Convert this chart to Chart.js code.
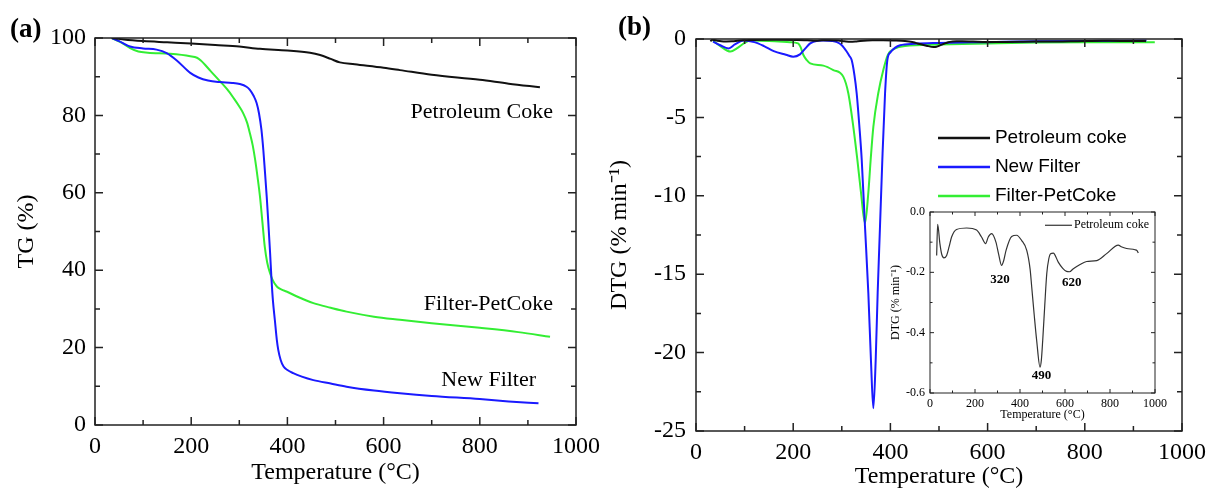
<!DOCTYPE html>
<html>
<head>
<meta charset="utf-8">
<script src="https://cdn.jsdelivr.net/npm/chart.js@4.4.1/dist/chart.umd.min.js"></script>
<style>
    body { margin: 0; background: #fff; }
    #wrap { position: relative; width: 1208px; height: 488px; overflow: hidden; }
    canvas { position: absolute; }
</style>
</head>
<body>
<div id="wrap">
    <canvas id="tg" width="600" height="488" style="left:0;top:0"></canvas>
    <canvas id="dtg" width="608" height="488" style="left:600px;top:0"></canvas>
    <canvas id="inset" width="290" height="225" style="left:880px;top:200px"></canvas>
</div>
<script>
// ------------------ DATA ------------------
// (a) TG curves, temperature in °C, mass in %
const cokeTgTemp = [35, 60, 100, 150, 200, 250, 300, 343, 400, 447, 468, 490, 509, 540, 600, 634, 700, 800, 860, 925];
const cokeTg = [100, 99.6, 99.2, 98.9, 98.6, 98.2, 97.8, 97.2, 96.8, 96.2, 95.6, 94.6, 93.7, 93.2, 92.3, 91.7, 90.5, 89.2, 88.2, 87.3];

const filterTgTemp = [35, 50, 73, 100, 128, 149, 170, 198, 215, 235, 260, 285, 301, 315, 322, 330, 336, 341, 346, 350, 353, 357, 360, 364, 367, 370, 374, 378, 381, 386, 392, 400, 412, 430, 454, 490, 523, 580, 634, 700, 800, 860, 922];
const filterTg = [100, 99.2, 97.8, 97.3, 97, 96.1, 94.2, 91, 89.8, 89, 88.6, 88.4, 88.1, 87.4, 86.6, 85, 83.2, 80.5, 76.3, 71, 66, 59, 53, 44.5, 37.5, 32, 27, 22, 19.4, 16.8, 15.1, 14.2, 13.4, 12.5, 11.6, 10.7, 9.9, 8.9, 8.2, 7.5, 6.7, 6.1, 5.6];

const mixTgTemp = [35, 55, 73, 90, 110, 156, 198, 212, 220, 240, 260, 275, 288, 300, 308, 316, 322, 328, 333, 338, 343, 348, 353, 358, 364, 370, 378, 388, 398, 420, 454, 490, 523, 580, 634, 700, 800, 880, 946];
const mixTg = [100, 98.8, 97.4, 96.5, 96.2, 95.9, 95.3, 94.9, 94.2, 91.5, 88.8, 86.7, 84.5, 82.3, 80.6, 78.2, 75.4, 72.2, 68.5, 64, 59, 52.5, 46, 42, 39.2, 37.3, 35.8, 35, 34.5, 33.2, 31.5, 30.3, 29.3, 28, 27.2, 26.3, 25.1, 24, 22.8];

// (b) DTG curves, % per min
const cokeDtgTemp = [29.6, 34, 44, 52, 62, 74, 85, 96, 118, 163, 207, 229, 247, 259, 274, 293, 305, 318, 328, 338, 363, 385, 407, 430, 445, 452, 463, 474, 489, 495, 501, 510, 519, 528, 536, 548, 570, 590, 607, 620, 637, 667, 696, 741, 785, 837, 850, 874, 911, 920, 926];
const cokeDtg = [-0.144, -0.041, -0.105, -0.14, -0.152, -0.144, -0.115, -0.083, -0.058, -0.053, -0.06, -0.083, -0.105, -0.083, -0.072, -0.1, -0.14, -0.177, -0.16, -0.127, -0.081, -0.077, -0.094, -0.127, -0.19, -0.248, -0.34, -0.425, -0.514, -0.49, -0.425, -0.31, -0.204, -0.155, -0.138, -0.136, -0.166, -0.187, -0.197, -0.198, -0.188, -0.174, -0.164, -0.161, -0.138, -0.11, -0.115, -0.121, -0.125, -0.128, -0.136];

const filterDtgTemp = [35, 50, 67, 80, 98, 120, 140, 160, 185, 200, 214, 225, 235, 250, 262, 280, 290, 300, 310, 315, 320.3, 326, 330.6, 336, 341, 347.7, 354.6, 360, 364.9, 369.7, 373.8, 378.6, 383.4, 389, 393.7, 400, 410, 420, 450, 500, 600, 700, 800, 927];
const filterDtg = [-0.17, -0.4, -0.6, -0.35, -0.1, -0.2, -0.45, -0.77, -1.0, -1.13, -0.98, -0.6, -0.28, -0.12, -0.1, -0.13, -0.2, -0.4, -0.8, -1.05, -1.34, -2.3, -3.46, -5.5, -7.7, -11.96, -16.2, -20.5, -23.55, -20.5, -16.2, -11.96, -7.7, -3.46, -1.34, -0.85, -0.55, -0.4, -0.3, -0.25, -0.2, -0.15, -0.12, -0.1];

const mixDtgTemp = [35, 50, 71, 84, 100, 111, 150, 193, 210, 215, 221, 228, 235, 262, 282.6, 303, 313.4, 323.7, 332, 339.5, 347.7, 354.6, 359.4, 364.9, 375, 385.4, 395, 410, 430, 500, 600, 700, 800, 944];
const mixDtg = [-0.1, -0.45, -0.8, -0.6, -0.25, -0.1, -0.12, -0.2, -0.28, -0.5, -1.02, -1.35, -1.55, -1.7, -1.98, -2.4, -3.46, -5.6, -7.7, -9.8, -11.75, -9.8, -7.7, -5.6, -3.46, -1.98, -1.0, -0.6, -0.45, -0.35, -0.28, -0.22, -0.2, -0.2];

// tick values
const tempTicks = [0, 200, 400, 600, 800, 1000];
const tgTicks = [0, 20, 40, 60, 80, 100];
const dtgTicks = [-25, -20, -15, -10, -5, 0];
const insetTicks = [-0.6, -0.4, -0.2, 0.0];

const BLACK = "#111111";
const BLUE = "#1a1aff";
const GREEN = "#33ee33";
const SERIF = "'Liberation Serif', 'Times New Roman', serif";
const SANS = "'Liberation Sans', Arial, sans-serif";

// ------------------ PLUGINS ------------------
// box round the plot with inward major and minor ticks on all four sides
const framePlugin = {
    id: "frame",
    afterDatasetsDraw(chart, args, opts) {
        const { ctx, chartArea: a } = chart;
        const marks = (scale) => {
            const vals = scale.ticks.map(t => t.value);
            const out = [];
            vals.forEach((v, i) => {
                out.push([v, opts.major]);
                if (i < vals.length - 1) out.push([(v + vals[i + 1]) / 2, opts.minor]);
            });
            return out;
        };
        ctx.save();
        ctx.strokeStyle = "#222";
        ctx.lineWidth = opts.width;
        ctx.strokeRect(a.left, a.top, a.right - a.left, a.bottom - a.top);
        ctx.beginPath();
        marks(chart.scales.x).forEach(([v, len]) => {
            const px = chart.scales.x.getPixelForValue(v);
            ctx.moveTo(px, a.bottom); ctx.lineTo(px, a.bottom - len);
            ctx.moveTo(px, a.top); ctx.lineTo(px, a.top + len);
        });
        marks(chart.scales.y).forEach(([v, len]) => {
            const py = chart.scales.y.getPixelForValue(v);
            ctx.moveTo(a.left, py); ctx.lineTo(a.left + len, py);
            ctx.moveTo(a.right, py); ctx.lineTo(a.right - len, py);
        });
        ctx.stroke();
        ctx.restore();
    }
};

// free text labels (in data units), a corner tag and a line legend
const notesPlugin = {
    id: "notes",
    afterDraw(chart, args, opts) {
        const { ctx } = chart;
        const xs = chart.scales.x, ys = chart.scales.y;
        ctx.save();
        ctx.textBaseline = "middle";
        ctx.fillStyle = "#000";
        (opts.texts || []).forEach(t => {
            ctx.font = t.font;
            ctx.textAlign = t.align || "center";
            ctx.fillText(t.text, xs.getPixelForValue(t.x), ys.getPixelForValue(t.y));
        });
        if (opts.tag) {
            ctx.font = opts.tag.font;
            ctx.textAlign = "left";
            ctx.fillText(opts.tag.text, opts.tag.x, opts.tag.y);
        }
        if (opts.legend) {
            const lg = opts.legend;
            ctx.font = lg.font;
            ctx.textAlign = "left";
            chart.data.datasets.forEach((ds, i) => {
                if (lg.only !== undefined && lg.only !== i) return;
                const row = lg.only !== undefined ? 0 : i;
                const py = ys.getPixelForValue(lg.y) + row * lg.dy;
                ctx.strokeStyle = ds.borderColor;
                ctx.lineWidth = lg.lineWidth;
                ctx.beginPath();
                ctx.moveTo(xs.getPixelForValue(lg.x0), py);
                ctx.lineTo(xs.getPixelForValue(lg.x1), py);
                ctx.stroke();
                ctx.fillStyle = "#000";
                ctx.fillText(ds.label, xs.getPixelForValue(lg.tx), py);
            });
        }
        ctx.restore();
    }
};

// ------------------ HELPERS ------------------
function series(label, temps, vals, color, width) {
    return {
        label: label,
        data: temps.map((t, i) => ({ x: t, y: vals[i] })),
        borderColor: color,
        borderWidth: width,
        pointRadius: 0,
        cubicInterpolationMode: "monotone",
        fill: false
    };
}

function fixed(size) {
    return function (scale) {
        if (scale.isHorizontal()) scale.height = size; else scale.width = size;
        scale.paddingLeft = 0; scale.paddingRight = 0;
        scale.paddingTop = 0; scale.paddingBottom = 0;
    };
}

function makeOptions(cfg) {
    return {
        responsive: false,
        animation: false,
        devicePixelRatio: 1,
        layout: { padding: cfg.padding },
        plugins: {
            legend: { display: false },
            tooltip: { enabled: false },
            frame: cfg.frame,
            notes: cfg.notes
        },
        scales: {
            x: {
                type: "linear",
                min: 0, max: 1000,
                afterFit: fixed(cfg.xHeight),
                afterBuildTicks: (s) => { s.ticks = tempTicks.map(v => ({ value: v })); },
                grid: { display: false, drawTicks: false },
                border: { display: false },
                ticks: { color: "#000", padding: cfg.xPad, font: { family: SERIF, size: cfg.tickSize }, maxRotation: 0, callback: (v) => String(v) },
                title: { display: true, text: "Temperature (°C)", color: "#000", padding: cfg.xTitlePad, font: { family: SERIF, size: cfg.titleSize, lineHeight: 1 } }
            },
            y: {
                type: "linear",
                min: cfg.yTicks[0], max: cfg.yTicks[cfg.yTicks.length - 1],
                afterFit: fixed(cfg.yWidth),
                afterBuildTicks: (s) => { s.ticks = cfg.yTicks.map(v => ({ value: v })); },
                grid: { display: false, drawTicks: false },
                border: { display: false },
                ticks: { color: "#000", padding: cfg.yPad, font: { family: SERIF, size: cfg.tickSize }, callback: cfg.yFormat },
                title: { display: true, text: cfg.yTitle, color: "#000", padding: cfg.yTitlePad, font: { family: SERIF, size: cfg.titleSize, lineHeight: 1 } }
            }
        }
    };
}

// ------------------ (a) TG ------------------
new Chart(document.getElementById("tg"), {
    type: "line",
    data: {
        datasets: [
            series("Petroleum Coke", cokeTgTemp, cokeTg, BLACK, 2),
            series("New Filter", filterTgTemp, filterTg, BLUE, 2),
            series("Filter-PetCoke", mixTgTemp, mixTg, GREEN, 2)
        ]
    },
    options: makeOptions({
        padding: { left: 0, top: 38, right: 24, bottom: 0 },
        xHeight: 63, yWidth: 95,
        xPad: 7, yPad: 9,
        tickSize: 24, titleSize: 24,
        xTitlePad: { top: 0, bottom: 3 },
        yTitlePad: { top: 15, bottom: 0 },
        yTicks: tgTicks,
        yTitle: "TG (%)",
        yFormat: (v) => String(v),
        frame: { width: 1.5, major: 8, minor: 5 },
        notes: {
            texts: [
                { text: "Petroleum Coke", x: 952, y: 80.9, align: "right", font: "22px " + SERIF },
                { text: "Filter-PetCoke", x: 952, y: 31.3, align: "right", font: "22px " + SERIF },
                { text: "New Filter", x: 917, y: 11.6, align: "right", font: "22px " + SERIF }
            ],
            tag: { text: "(a)", x: 10, y: 30, font: "bold 27px " + SERIF }
        }
    }),
    plugins: [framePlugin, notesPlugin]
});

// ------------------ (b) DTG ------------------
new Chart(document.getElementById("dtg"), {
    type: "line",
    data: {
        datasets: [
            series("Petroleum coke", cokeDtgTemp, cokeDtg, BLACK, 2),
            series("New Filter", filterDtgTemp, filterDtg, BLUE, 2),
            series("Filter-PetCoke", mixDtgTemp, mixDtg, GREEN, 2)
        ]
    },
    options: makeOptions({
        padding: { left: 0, top: 39, right: 26, bottom: 0 },
        xHeight: 57, yWidth: 96,
        xPad: 7, yPad: 10,
        tickSize: 24, titleSize: 24,
        xTitlePad: { top: 0, bottom: -1 },
        yTitlePad: { top: 8, bottom: 0 },
        yTicks: dtgTicks,
        yTitle: "DTG (% min⁻¹)",
        yFormat: (v) => String(v),
        frame: { width: 1.5, major: 8, minor: 5 },
        notes: {
            tag: { text: "(b)", x: 18, y: 28, font: "bold 27px " + SERIF },
            legend: { x0: 498, x1: 605, tx: 615, y: -6.31, dy: 29, lineWidth: 2.5, font: "19px " + SANS }
        }
    }),
    plugins: [framePlugin, notesPlugin]
});

// ------------------ inset: petroleum coke DTG ------------------
new Chart(document.getElementById("inset"), {
    type: "line",
    data: {
        datasets: [series("Petroleum coke", cokeDtgTemp, cokeDtg, "#333", 1.2)]
    },
    options: makeOptions({
        padding: { left: 0, top: 12, right: 15, bottom: 0 },
        xHeight: 32, yWidth: 50,
        xPad: 4, yPad: 5,
        tickSize: 12, titleSize: 12,
        xTitlePad: { top: 0, bottom: 4 },
        yTitlePad: { top: 10, bottom: 0 },
        yTicks: insetTicks,
        yTitle: "DTG (% min⁻¹)",
        yFormat: (v) => v.toFixed(1),
        frame: { width: 1, major: 4, minor: 2.5 },
        notes: {
            texts: [
                { text: "320", x: 311, y: -0.223, font: "bold 13px " + SERIF },
                { text: "490", x: 496, y: -0.541, font: "bold 13px " + SERIF },
                { text: "620", x: 630, y: -0.235, font: "bold 13px " + SERIF }
            ],
            legend: { only: 0, x0: 511, x1: 631, tx: 640, y: -0.044, dy: 0, lineWidth: 1.2, font: "12px " + SERIF }
        }
    }),
    plugins: [framePlugin, notesPlugin]
});
</script>
</body>
</html>
